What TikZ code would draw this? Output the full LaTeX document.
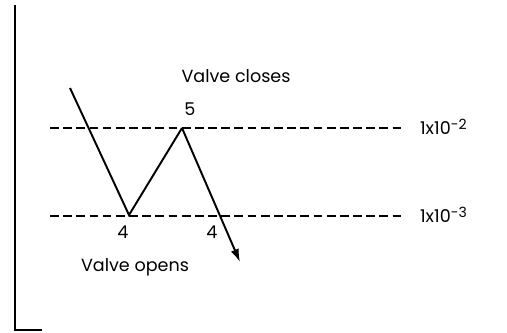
\documentclass[tikz,border=0pt]{standalone}
\usepackage{fontspec}
\setmainfont{Poppins}
\usetikzlibrary{arrows.meta}
\newcommand{\powlbl}[1]{1x10\raisebox{0.55ex}{\fontsize{8}{9}\selectfont#1}}
\begin{document}
\begin{tikzpicture}[x=0.02cm, y=-0.02cm, font=\fontsize{10}{12}\selectfont, >={Latex[length=2.6mm,width=1.7mm]},
          axisline/.style={line width=1.1pt},
          limit/.style={dashed, dash pattern=on 5pt off 2.5pt, line width=0.8pt},
          track/.style={line width=1.1pt},
          lbl/.style={inner sep=1pt}]
        \useasboundingbox (0,0) rectangle (507,332);
        % axes
        \coordinate (top) at (15,5);
        \coordinate (orig) at (15,330);
        \coordinate (xend) at (42,330);
        \draw[axisline] (top) -- (orig) -- (xend);
        % limit levels
        \coordinate (hiL) at (50,128);
        \coordinate (hiR) at (405,128);
        \coordinate (loL) at (50,216);
        \coordinate (loR) at (405,216);
        \node[lbl, anchor=west] (hilbl) at (418,127) {\powlbl{-2}};
        \node[lbl, anchor=west] (lolbl) at (418,215) {\powlbl{-3}};
        \draw[limit] (hiL) -- (hiR);
        \draw[limit] (loL) -- (loR);
        % pressure path
        \coordinate (p0) at (70,88);
        \coordinate (p1) at (129,215);
        \coordinate (p2) at (182,128);
        \coordinate (p3) at (240,262);
        \draw[track] (p0) -- (p1) -- (p2);
        \draw[track, ->] (p2) -- (p3);
        \node[lbl] (five) at (190,109) {5};
        \node[lbl] (fourA) at (123,232) {4};
        \node[lbl] (fourB) at (212,232) {4};
        \node[lbl] (closes) at (236,76) {Valve closes};
        \node[lbl] (opens) at (135,267) {Valve opens};
      \end{tikzpicture}
\end{document}
